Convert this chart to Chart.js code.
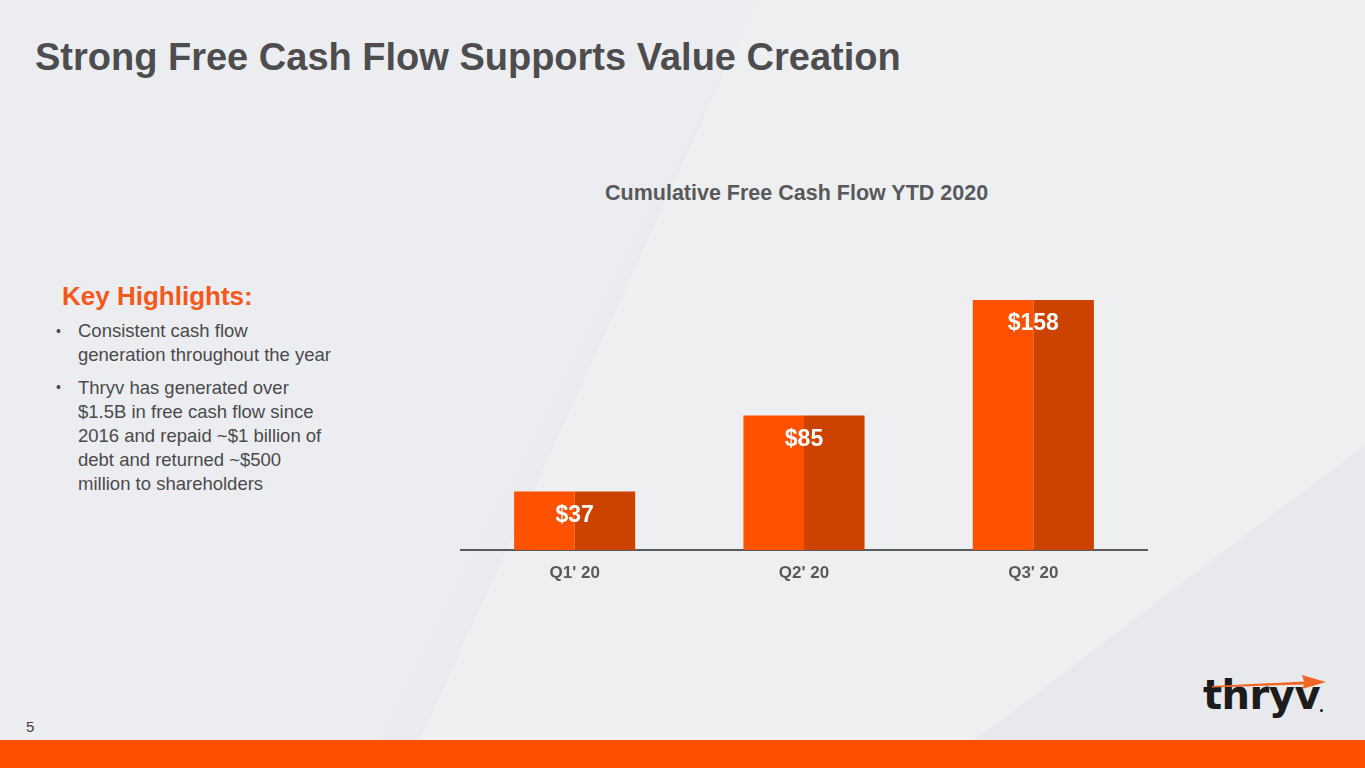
<!DOCTYPE html>
<html>
<head>
<meta charset="utf-8">
<script src="https://cdn.jsdelivr.net/npm/chart.js@4.4.1/dist/chart.umd.min.js"></script>
<style>
  html, body { margin:0; padding:0; }
  body { width:1365px; height:768px; position:relative; overflow:hidden; background:#EAEBEE; font-family:"Liberation Sans", Arial, sans-serif; }
  .bg { position:absolute; left:0; top:0; width:1365px; height:768px; }
  .shapeA { background:#ECEDF0; clip-path:polygon(0 0, 760px 0, 380px 740px, 0 740px); }
  .shapeB { background:#EEEFF1; clip-path:polygon(757px 0, 1365px 0, 1365px 445px, 975px 740px, 420px 740px); }
  .shapeC { background:#E8E9EC; clip-path:polygon(1365px 445px, 1365px 740px, 975px 740px); }
  #title { position:absolute; left:35px; top:36px; font-size:38px; font-weight:bold; color:#4D4D4F; white-space:nowrap; }
  #ctitle { position:absolute; left:605px; top:181px; font-size:21.5px; font-weight:bold; color:#58595B; white-space:nowrap; }
  #kh { position:absolute; left:62px; top:281px; font-size:26px; font-weight:bold; color:#F4581A; white-space:nowrap; }
  .bul { position:absolute; left:78px; font-size:18.5px; line-height:24px; color:#4A4A4C; white-space:nowrap; }
  .dot { position:absolute; left:56px; font-size:14px; color:#4A4A4C; }
  #pg { position:absolute; left:26px; top:718px; font-size:15px; color:#404040; }
  #band { position:absolute; left:0; top:740px; width:1365px; height:28px; background:#FF5000; }
  #logo { position:absolute; left:1203px; top:671px; font-size:40px; font-weight:bold; color:#1C1C1C; letter-spacing:-0.5px; font-family:"DejaVu Sans", sans-serif; line-height:48px; }
  #reg { position:absolute; left:1320px; top:709px; width:3px; height:3px; border-radius:50%; background:#1C1C1C; }
  #arrow { position:absolute; left:1208px; top:672px; }
  #chartWrap { position:absolute; left:460px; top:290px; width:688px; height:310px; }
</style>
</head>
<body>
<div class="bg shapeA"></div>
<div class="bg shapeB"></div>
<div class="bg shapeC"></div>
<div id="title">Strong Free Cash Flow Supports Value Creation</div>
<div id="ctitle">Cumulative Free Cash Flow YTD 2020</div>
<div id="kh">Key Highlights:</div>
<div class="dot" style="top:323px">•</div>
<div class="bul" style="top:319px">Consistent cash flow<br>generation throughout the year</div>
<div class="dot" style="top:379px">•</div>
<div class="bul" style="top:376px">Thryv has generated over<br>$1.5B in free cash flow since<br>2016 and repaid ~$1 billion of<br>debt and returned ~$500<br>million to shareholders</div>
<div id="pg">5</div>
<div id="band"></div>
<div id="logo">thryv</div>
<div id="reg"></div>
<svg id="arrow" width="120" height="22" viewBox="0 0 120 22">
  <path d="M4 14 L96 9.5 L94 3 L118 10 L94 17 L96 12.5 L4 15.5 Z" fill="#F26522"/>
</svg>
<div id="chartWrap"><canvas id="c"></canvas></div>
<script>
const categories = ["Q1' 20", "Q2' 20", "Q3' 20"];
const fcfValues = [37, 85, 158];
const valueLabels = ["$37", "$85", "$158"];

const labelPlugin = {
  id: 'valueLabels',
  afterDatasetsDraw(chart) {
    const ctx = chart.ctx;
    const xs = chart.scales.x, ys = chart.scales.y;
    ctx.save();
    ctx.fillStyle = '#FFFFFF';
    ctx.font = 'bold 23px "Liberation Sans", Arial, sans-serif';
    ctx.textAlign = 'center';
    ctx.textBaseline = 'middle';
    fcfValues.forEach((v, i) => {
      ctx.fillText(valueLabels[i], xs.getPixelForValue(i), ys.getPixelForValue(v) + 24);
    });
    ctx.restore();
  }
};

new Chart(document.getElementById('c'), {
  type: 'bar',
  data: {
    labels: categories,
    datasets: [
      { data: fcfValues, backgroundColor: '#FF5100', barPercentage: 1.0, categoryPercentage: 0.528 },
      { data: fcfValues, backgroundColor: '#CC4300', barPercentage: 1.0, categoryPercentage: 0.528 }
    ]
  },
  options: {
    responsive: true,
    maintainAspectRatio: false,
    animation: false,
    layout: { padding: 0 },
    plugins: { legend: { display: false }, tooltip: { enabled: false } },
    scales: {
      x: {
        grid: { display: false, drawTicks: false },
        border: { display: true, color: '#5A5A5C', width: 2 },
        ticks: { color: '#58595B', font: { family: '"Liberation Sans", Arial, sans-serif', size: 17, weight: 'bold' }, padding: 13 },
        afterFit: (s) => { s.height = 50; }
      },
      y: {
        display: false,
        min: 0,
        max: 164.3
      }
    }
  },
  plugins: [labelPlugin]
});
</script>
</body>
</html>
